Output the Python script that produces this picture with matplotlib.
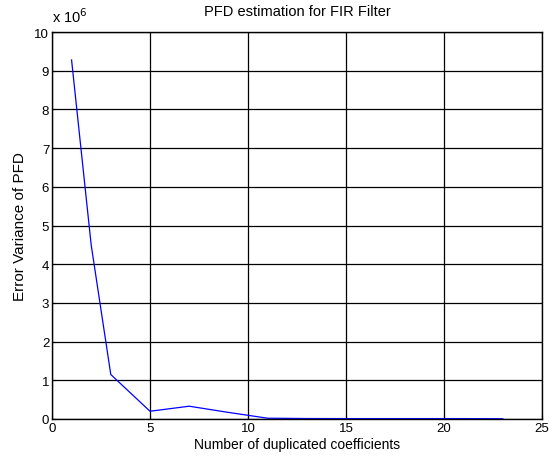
import matplotlib
matplotlib.use('Agg')
import matplotlib.pyplot as plt

# data
n_dup = [1, 2, 3, 5, 7, 9, 11, 13, 15, 17, 19, 21, 23]
err_var = [9.28, 4.5, 1.15, 0.2, 0.33, 0.17, 0.02, 0.012, 0.01, 0.01, 0.01, 0.01, 0.005]  # x 1e6

plt.rcParams['font.family'] = ['Liberation Sans', 'DejaVu Sans']
plt.rcParams['font.size'] = 10

fig = plt.figure(figsize=(5.5, 4.6), dpi=100)
ax = fig.add_axes([0.0945, 0.087, 0.891, 0.841])

ax.plot(n_dup, [v * 1e6 for v in err_var], color='blue', linewidth=0.9)
ax.set_xlim(0, 25)
ax.set_ylim(0, 10e6)
ax.set_xticks(range(0, 26, 5))
ax.set_yticks([i * 1e6 for i in range(11)])
ax.set_yticklabels([str(i) for i in range(11)])
ax.grid(True, color='black', linestyle='-', linewidth=0.9)
ax.tick_params(direction='in', length=3, width=0.8, labelsize=9.5, pad=2)
for s in ax.spines.values():
    s.set_linewidth(1.0)

ax.text(0.0, 1.018, r'x 10$^{6}$', transform=ax.transAxes, fontsize=10.5, ha='left', va='bottom')
ax.set_title('PFD estimation for FIR Filter', fontsize=10.5, pad=12)
ax.set_xlabel('Number of duplicated coefficients', fontsize=10, labelpad=2)
ax.set_ylabel('Error Variance of PFD', fontsize=11, labelpad=5)

fig.savefig('out.png', dpi=100)
